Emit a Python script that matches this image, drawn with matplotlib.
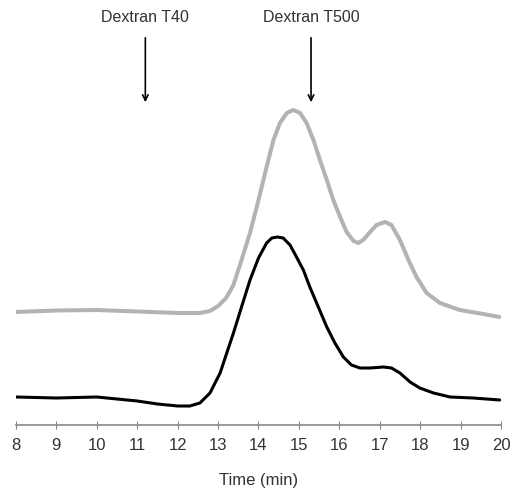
import numpy as np
from matplotlib import pyplot as plt

plt.rcParams['font.family'] = ['Liberation Sans', 'DejaVu Sans']

# upper (grey) trace
t_grey = [8.0, 9.0, 10.0, 11.0, 12.0, 12.55, 12.8, 13.0, 13.2, 13.38, 13.58, 13.79, 14.0, 14.2,
          14.37, 14.53, 14.7, 14.86, 15.03, 15.19, 15.36, 15.52, 15.69, 15.85, 16.02, 16.18,
          16.35, 16.47, 16.59, 16.76, 16.92, 17.13, 17.29, 17.5, 17.71, 17.91, 18.16, 18.49,
          18.98, 19.56, 19.97]
s_grey = [113, 114.5, 115, 113.5, 112, 112, 114, 119, 127, 140, 165, 192, 225, 258,
          285, 302, 312, 315, 312, 302, 285, 265, 245, 225, 208, 193,
          184, 182, 185, 193, 200, 203, 200, 185, 165, 148, 132, 122,
          115, 111, 108]

# lower (black) trace
t_black = [8.0, 9.0, 10.0, 10.5, 11.0, 11.5, 12.0, 12.3, 12.55, 12.8, 13.05, 13.38, 13.58,
           13.79, 14.0, 14.2, 14.33, 14.47, 14.61, 14.78, 14.94, 15.11, 15.27, 15.48, 15.69,
           15.89, 16.1, 16.3, 16.51, 16.76, 17.09, 17.29, 17.5, 17.75, 17.99, 18.33, 18.74,
           19.31, 19.97]
s_black = [28, 27, 28, 26, 24, 21, 19, 19, 22, 32, 52, 92, 118,
           145, 167, 182, 187, 188, 187, 180, 168, 155, 138, 118, 98,
           82, 68, 60, 57, 57, 58, 57, 52, 43, 37, 32, 28,
           27, 25]

markers = ['Dextran T40', 'Dextran T500']
marker_t = [11.2, 15.3]

fig = plt.figure(figsize=(5.12, 4.92), dpi=100)
ax = fig.add_axes([16/512, 1-425/492, 485/512, 405/492])

ax.plot(t_grey, s_grey, color='#b3b3b3', lw=2.9, solid_capstyle='round', solid_joinstyle='round')
ax.plot(t_black, s_black, color='black', lw=2.2, solid_capstyle='round', solid_joinstyle='round')

for lab, t in zip(markers, marker_t):
    ax.annotate('', xy=(t, 320), xytext=(t, 390),
                arrowprops=dict(arrowstyle='->', color='black', lw=1.2))
    ax.text(t, 407, lab, ha='center', va='center', fontsize=11.5, color='#333333')

ax.set_xlim(8, 20)
ax.set_ylim(0, 405)
ax.set_xticks(range(8, 21))
ax.set_yticks([])
for s in ['left', 'right', 'top']:
    ax.spines[s].set_visible(False)
ax.spines['bottom'].set_color('#888888')
ax.spines['bottom'].set_linewidth(1.2)
ax.tick_params(axis='x', direction='inout', length=6, color='#888888', labelsize=12,
               labelcolor='#333333', pad=6)
ax.set_xlabel('Time (min)', fontsize=12, color='#333333', labelpad=15)

fig.savefig('out.png', dpi=100)
